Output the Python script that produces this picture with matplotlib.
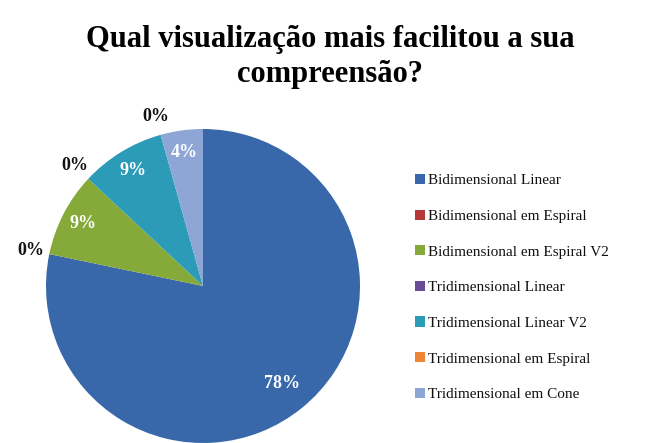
import numpy as np
import matplotlib
matplotlib.use("Agg")
import matplotlib.pyplot as plt
from matplotlib.patches import Patch

categories = ["Bidimensional Linear", "Bidimensional em Espiral", "Bidimensional em Espiral V2",
              "Tridimensional Linear", "Tridimensional Linear V2", "Tridimensional em Espiral",
              "Tridimensional em Cone"]
counts = [18, 0, 2, 0, 2, 0, 1]
colors = ["#3868AA", "#B53A37", "#86AA3A", "#6A4C96", "#2C9BB8", "#EE8434", "#8EA6D6"]
title = "Qual visualização mais facilitou a sua\ncompreensão?"

W, H = 660, 443
fig = plt.figure(figsize=(W / 100, H / 100), dpi=100)
fig.patch.set_facecolor("white")

cx, cy, R = 203, 286, 157
ax = fig.add_axes([(cx - R) / W, (H - cy - R) / H, 2 * R / W, 2 * R / H])
wedges, _ = ax.pie(counts, colors=colors, startangle=90, counterclock=False,
                   radius=1.0, wedgeprops=dict(linewidth=0))
ax.set_xlim(-1, 1)
ax.set_ylim(-1, 1)
ax.set_axis_off()

total = sum(counts)
for w, c in zip(wedges, counts):
    mid = np.deg2rad((w.theta1 + w.theta2) / 2)
    pct = f"{round(100 * c / total)}%"
    if c == 0:
        d, col = 1.12, "#111111"
    else:
        d = 0.80 if c / total > 0.5 else 0.86
        col = "white"
    ax.text(d * np.cos(mid), d * np.sin(mid), pct, ha="center", va="center",
            fontsize=13, fontweight="bold", family="Liberation Serif", color=col,
            clip_on=False)

fig.text(0.5, 1 - 57 / H, title, ha="center", va="center", fontsize=22,
         fontweight="bold", family="Liberation Serif", linespacing=1.3)

handles = [Patch(facecolor=c, edgecolor="none") for c in colors]
leg = fig.legend(handles, categories, loc="upper left",
                 bbox_to_anchor=(415 / W, 1 - 174 / H), frameon=False,
                 prop={"family": "Liberation Serif", "size": 11},
                 handlelength=0.65, handleheight=0.65, handletextpad=0.2,
                 labelspacing=1.45, borderaxespad=0, borderpad=0)
for t in leg.get_texts():
    t.set_color("#111111")

fig.savefig("out.png", dpi=100, facecolor="white")
